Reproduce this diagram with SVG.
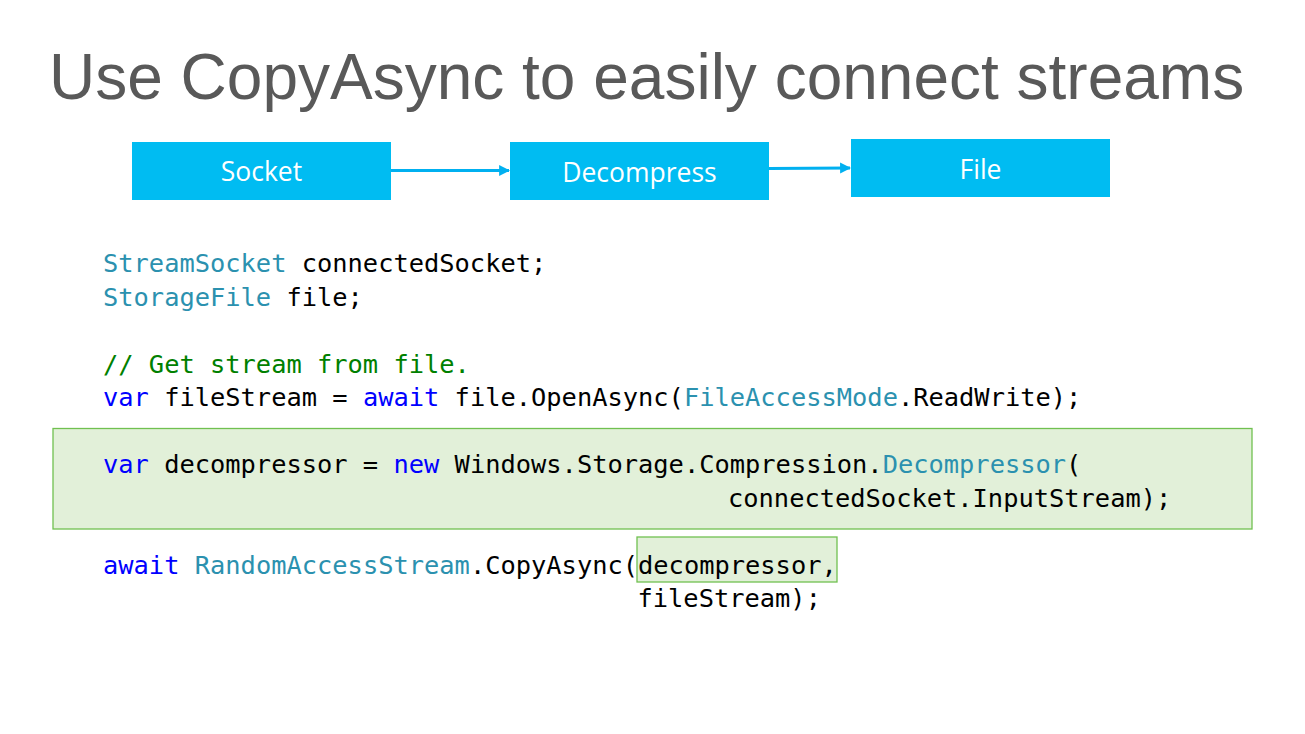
<svg xmlns="http://www.w3.org/2000/svg" width="1305" height="734" viewBox="0 0 1305 734">
<defs>
<style>
.title{font-family:"Liberation Sans",Arial,sans-serif;font-size:64px;fill:#595959}
.box{fill:#00BCF2}
.lbl{font-family:"Open Sans","Noto Sans",sans-serif;font-size:26.5px;fill:#ffffff;text-anchor:middle}
.conn{stroke:#00B0F0;stroke-width:3;fill:none}
.code{font-family:"DejaVu Sans Mono","Liberation Mono",monospace;font-size:25.4px;fill:#000000;white-space:pre}
.t{fill:#2B91AF}
.k{fill:#0000FF}
.c{fill:#008000}
.hl{fill:#E2F0D9;stroke:#70C050;stroke-width:1.3}
</style>
<marker id="ah" viewBox="0 0 10 10" refX="9" refY="5" markerWidth="11" markerHeight="13" markerUnits="userSpaceOnUse" orient="auto">
<path d="M0,0 L10,5 L0,10 Z" fill="#00B0F0"/>
</marker>
</defs>
<rect width="1305" height="734" fill="#ffffff"/>
<text class="title" x="49" y="99">Use CopyAsync to easily connect streams</text>
<g id="connectors">
<line class="conn" x1="391" y1="170.5" x2="509" y2="170.5" marker-end="url(#ah)"/>
<line class="conn" x1="769" y1="168.5" x2="850" y2="168" marker-end="url(#ah)"/>
</g>
<g id="node-socket">
<rect class="box" x="132" y="142" width="259" height="58"/>
<text class="lbl" x="261.5" y="181">Socket</text>
</g>
<g id="node-decompress">
<rect class="box" x="510" y="142" width="259" height="58"/>
<text class="lbl" x="639.5" y="182">Decompress</text>
</g>
<g id="node-file">
<rect class="box" x="851" y="139" width="259" height="58"/>
<text class="lbl" x="980.5" y="179">File</text>
</g>
<g id="highlights">
<rect class="hl" x="53" y="428.5" width="1199" height="100.5"/>
<rect class="hl" x="637" y="537" width="200" height="45"/>
</g>
<g id="code">
<text class="code" x="103" y="272"><tspan class="t">StreamSocket</tspan> connectedSocket;</text>
<text class="code" x="103" y="305.5"><tspan class="t">StorageFile</tspan> file;</text>
<text class="code c" x="103" y="372.5">// Get stream from file.</text>
<text class="code" x="103" y="406"><tspan class="k">var</tspan> fileStream = <tspan class="k">await</tspan> file.OpenAsync(<tspan class="t">FileAccessMode</tspan>.ReadWrite);</text>
<text class="code" x="103" y="473"><tspan class="k">var</tspan> decompressor = <tspan class="k">new</tspan> Windows.Storage.Compression.<tspan class="t">Decompressor</tspan>(</text>
<text class="code" x="728" y="506.5">connectedSocket.InputStream);</text>
<text class="code" x="103" y="573.5"><tspan class="k">await</tspan> <tspan class="t">RandomAccessStream</tspan>.CopyAsync(decompressor,</text>
<text class="code" x="637.5" y="607">fileStream);</text>
</g>
</svg>
